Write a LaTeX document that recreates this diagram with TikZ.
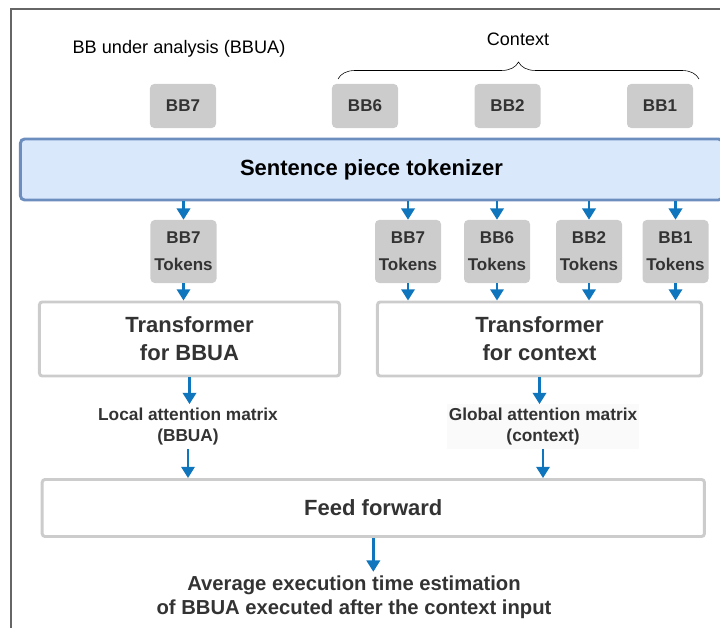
\documentclass[tikz,border=0pt]{standalone}
\usepackage{fontspec}
\setmainfont{Liberation Sans}
\usepackage{tikz}
\usepackage{xcolor}
\usetikzlibrary{
    arrows.meta,
    decorations.pathreplacing,
    calc
}
\definecolor{bbgray}{HTML}{CCCCCC}
\definecolor{tokfill}{HTML}{DAE8FC}
\definecolor{tokdraw}{HTML}{6C8EBF}
\definecolor{arrblue}{HTML}{0F75BC}
\definecolor{txtgray}{HTML}{333333}
\tikzset{bbbox/.style={inner sep=0pt, rounded corners=3pt, fill=bbgray, text=txtgray, font=\fontsize{12.1}{19.2}\selectfont\bfseries, minimum width=1.65cm, minimum height=1.1cm, align=center}}
\tikzset{tfbox/.style={inner sep=0pt, rounded corners=2pt, draw=bbgray, line width=2.1pt, fill=white, text=txtgray, font=\fontsize{15.65}{19.9}\selectfont\bfseries, minimum height=1.85cm, align=center}}
\tikzset{lbl/.style={inner sep=2.5pt, text=txtgray, font=\fontsize{12.3}{15}\selectfont\bfseries, align=center}}
\tikzset{arr/.style={draw=arrblue, line width=1.7pt, -{Triangle[width=9.5pt,length=8pt]}}}

\begin{document}
\begin{tikzpicture}[x=0.025cm, y=-0.025cm]
    \clip (0, 0) rectangle (720, 628);
    \draw[color=black!60, line width=0.8pt] (11, 9) rectangle (760, 660);

    % inputs
    \node (bbua) at (179, 49) {\fontsize{12.9}{15}\selectfont BB under analysis (BBUA)};
    \node (ctx) at (518, 39) {\fontsize{12.8}{15}\selectfont Context};
    \draw[decorate, decoration={brace, amplitude=0.425cm}] (338, 79) -- (699, 79);

    \node[bbbox] (bb7) at (183, 106) {BB7};
    \node[bbbox] (bb6) at (365, 106) {BB6};
    \node[bbbox] (bb2) at (507.5, 106) {BB2};
    \node[bbbox] (bb1) at (660, 106) {BB1};

    \node[draw=tokdraw, fill=tokfill, line width=2.1pt, rounded corners=3pt, inner sep=0pt,
        minimum width=17.55cm, minimum height=1.525cm,
        font=\fontsize{15.65}{19.9}\selectfont\bfseries] (tokz) at (371.5, 169.5) {Sentence piece tokenizer};

    % tokens
    \node[bbbox, minimum height=1.575cm] (tk7a) at (183.5, 251.5) {BB7\\Tokens};
    \node[bbbox, minimum height=1.575cm] (tk7b) at (408, 251.5) {BB7\\Tokens};
    \node[bbbox, minimum height=1.575cm] (tk6) at (497, 251.5) {BB6\\Tokens};
    \node[bbbox, minimum height=1.575cm] (tk2) at (589, 251.5) {BB2\\Tokens};
    \node[bbbox, minimum height=1.575cm] (tk1) at (675.5, 251.5) {BB1\\Tokens};

    % transformers
    \node[tfbox, minimum width=7.5cm] (tfbbua) at (189.5, 339) {Transformer\\for BBUA};
    \node[tfbox, minimum width=8.1cm] (tfctx) at (539.5, 339) {Transformer\\for context};

    \node[lbl] (lam) at (188, 426.5) {Local attention matrix\\(BBUA)};
    \node[lbl, fill=black!2, inner xsep=1pt] (gam) at (543, 426.5) {Global attention matrix\\(context)};

    \node[tfbox, minimum width=16.55cm, minimum height=1.425cm] (ff) at (373.3, 508) {Feed forward};
    \node[lbl, font=\fontsize{14.4}{17.1}\selectfont\bfseries] (out) at (354, 597) {Average execution time estimation\\of BBUA executed after the context input};

    % arrows
    \draw[arr] (tokz.south -| tk7a) -- (tk7a.north);
    \draw[arr] (tk7a.south) -- (tk7a.south |- tfbbua.north);
    \foreach \t in {tk7b, tk6, tk2, tk1} {
        \draw[arr] (tokz.south -| \t) -- (\t.north);
        \draw[arr] (\t.south) -- (\t.south |- tfctx.north);
    }
    \draw[arr] (tfbbua.south) -- (tfbbua.south |- lam.north);
    \draw[arr] (lam.south) -- (lam.south |- ff.north);
    \draw[arr] (tfctx.south) -- (tfctx.south |- gam.north);
    \draw[arr] (gam.south) -- (gam.south |- ff.north);
    \draw[arr] (ff.south) -- (ff.south |- out.north);
\end{tikzpicture}
\end{document}
